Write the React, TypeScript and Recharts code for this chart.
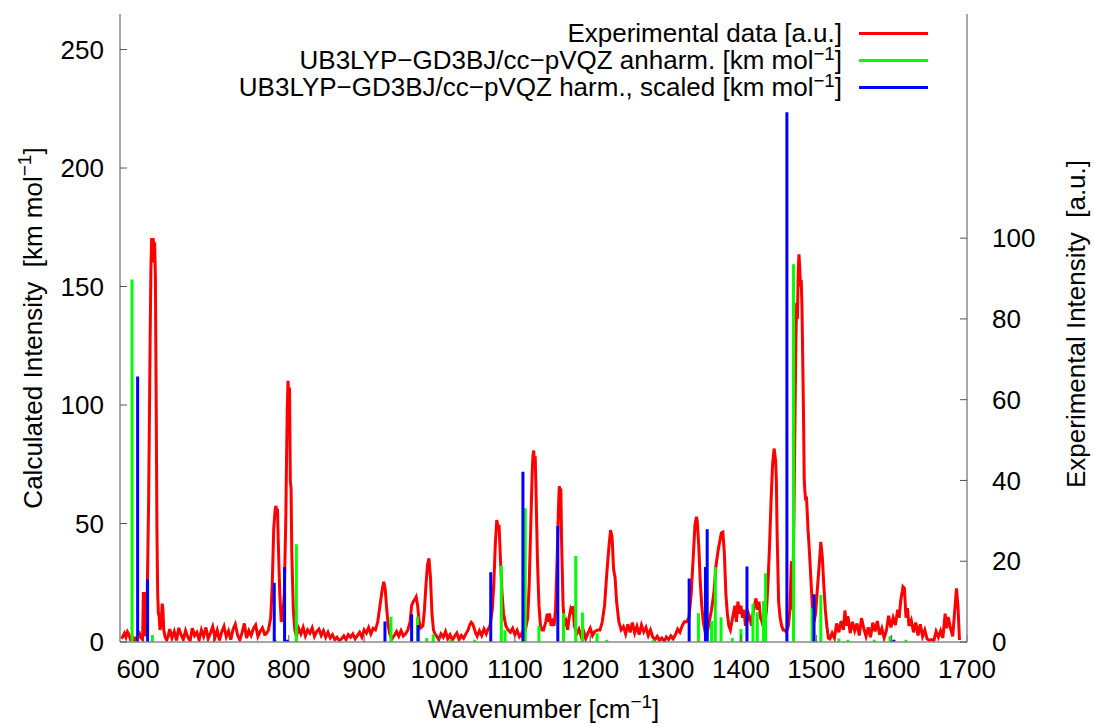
import React from 'react';
import { ComposedChart, Line, XAxis, YAxis, Legend } from 'recharts';

const wavenumberTicks = [600, 700, 800, 900, 1000, 1100, 1200, 1300, 1400, 1500, 1600, 1700];
const calcTicks = [0, 50, 100, 150, 200, 250];
const expTicks = [0, 20, 40, 60, 80, 100];

// measured spectrum, [wavenumber cm-1, intensity a.u.]
const experimental: [number, number][] = [
  [578, 0.8], [580, 1.5], [582, 2.2], [584, 1.2], [586, 2.5], [588, 1.8], [590, 0.6], [592, 1.4], [594, 0.4],
  [596, 0.9], [598, 0.3], [600, 1.2], [602, 2.0], [604, 1.0], [606, 0.6], [607, 12], [608.5, 12], [609, 1.5],
  [610, 2], [612, 10], [614, 35], [616, 75], [617, 92], [618, 100], [619, 94], [620, 100], [621, 97], [622, 99],
  [623, 90], [624, 60], [625, 28], [626, 12], [627, 7], [628, 6.3], [629, 3], [630, 4], [631, 6], [632, 9.5],
  [633, 8], [634, 3], [636, 1.2], [638, 0.5], [640, 1.5],
  [642, 3.2], [645, 1.0], [648, 2.6], [651, 0.4], [654, 3.5], [657, 1.8], [660, 0.6], [663, 2.8], [666, 1.2],
  [669, 0.3], [672, 3.4], [675, 1.6], [678, 2.4], [681, 0.5], [684, 3.0], [687, 1.4], [690, 3.6], [693, 0.8],
  [696, 2.2], [699, 3.8], [702, 1.1], [705, 2.9], [708, 0.4], [711, 2.5], [714, 3.9], [717, 1.3], [720, 2.7],
  [723, 0.6], [726, 3.1], [729, 4.4], [732, 1.7], [735, 0.5], [738, 2.3], [741, 4.6], [744, 1.0], [747, 2.8],
  [750, 1.6], [753, 3.3], [756, 4.2], [759, 1.4], [762, 2.6], [765, 3.5], [768, 1.9],
  [770, 2], [773, 3], [776, 6], [778, 14], [780, 28], [782, 33], [783, 33.7], [784, 32], [785, 33], [786, 25],
  [788, 12], [790, 5], [792, 6], [794, 12], [796, 30], [797, 45], [798, 58], [799, 64.7], [800, 60], [801, 63],
  [802, 40], [803, 38], [804, 22], [806, 8], [808, 3], [810, 1.5],
  [813, 3.4], [816, 2.0], [819, 3.6], [822, 1.5], [825, 3.0], [828, 2.2], [831, 3.5], [834, 1.4], [837, 2.6],
  [840, 3.2], [843, 1.6], [846, 2.8], [849, 1.2], [852, 2.4], [855, 1.0], [858, 1.8], [861, 0.6], [864, 1.2],
  [867, 0.3], [870, 0.8], [873, 1.5], [876, 0.6], [879, 1.8], [882, 1.2], [885, 2.0], [888, 0.8], [891, 1.6],
  [894, 2.4], [897, 1.2], [900, 3.0], [903, 2.2], [906, 3.6], [909, 2.0], [912, 3.4],
  [915, 3], [918, 5], [921, 9], [924, 13], [926, 14.9], [928, 13], [930, 8], [932, 4], [934, 2],
  [937, 0.8], [940, 1.6], [943, 2.6], [946, 1.4], [949, 2.8], [952, 1.5],
  [955, 2], [958, 3], [961, 5], [963, 9], [965, 10], [967, 10.5], [969, 11.2], [971, 9], [973, 5], [975, 3.5],
  [978, 4], [980, 8], [982, 14], [984, 19], [986, 20.7], [988, 16], [990, 7], [992, 3], [994, 2],
  [996, 1.5], [999, 0.6], [1002, 2.0], [1005, 1.2], [1008, 2.6], [1011, 0.8], [1014, 1.8], [1017, 0.5],
  [1020, 1.4], [1023, 2.2], [1026, 0.6], [1029, 1.6], [1032, 0.9], [1035, 2.0], [1038, 3.0], [1040, 4.2],
  [1042, 4.9], [1044, 4.5], [1046, 3.4], [1048, 2.2], [1050, 1.4], [1053, 2.8], [1056, 1.6], [1059, 3.2],
  [1062, 2.0],
  [1064, 3], [1067, 4], [1070, 8], [1072, 14], [1074, 24], [1076, 30.2], [1078, 28], [1079, 29], [1081, 20],
  [1083, 12], [1085, 7], [1088, 4], [1091, 3],
  [1094, 2.4], [1097, 3.4], [1100, 1.8], [1103, 2.9], [1106, 1.3], [1109, 2.1], [1111, 1.0],
  [1114, 3], [1117, 6], [1119, 14], [1121, 28], [1123, 42], [1124, 46], [1125, 47.4], [1126, 44], [1127, 46],
  [1128, 38], [1130, 20], [1132, 9], [1134, 4], [1136, 3],
  [1138, 3], [1141, 5], [1143, 7], [1145, 5], [1146, 7.1], [1148, 4], [1150, 5], [1152, 4], [1154, 8],
  [1156, 20], [1158, 34], [1159, 38.6], [1160, 37], [1161, 38], [1162, 25], [1164, 9], [1166, 4], [1168, 5],
  [1170, 3], [1172, 6], [1174, 8], [1176, 7], [1177, 8.9], [1179, 4], [1182, 2],
  [1185, 3.2], [1188, 1.4], [1191, 2.8], [1194, 0.8], [1197, 2.2], [1200, 3.4], [1203, 1.6], [1206, 2.6],
  [1210, 3], [1213, 3], [1216, 5], [1219, 9], [1222, 17], [1225, 24], [1227, 27.7], [1229, 26], [1231, 18],
  [1233, 16], [1235, 10], [1238, 5], [1241, 3],
  [1244, 3.8], [1247, 2.0], [1250, 4.4], [1253, 2.4], [1256, 4.8], [1259, 2.2], [1262, 3.9], [1265, 1.8],
  [1268, 4.2], [1271, 2.5], [1274, 3.6], [1277, 1.6], [1280, 3.0], [1283, 1.2], [1286, 0.6], [1289, 1.4],
  [1292, 0.4], [1295, 1.0], [1298, 0.3], [1301, 1.2], [1304, 0.6], [1307, 1.5], [1310, 0.8], [1313, 1.8],
  [1316, 3.2], [1319, 2.4],
  [1322, 4], [1325, 5], [1328, 5], [1331, 6], [1334, 12], [1337, 22], [1339, 29], [1341, 31], [1342, 30],
  [1344, 24], [1346, 15], [1348, 9], [1350, 5], [1352, 3], [1354, 4], [1356, 3],
  [1358, 5], [1361, 8], [1364, 12], [1367, 19], [1370, 23], [1372, 25], [1374, 27], [1376, 27.2], [1378, 22],
  [1380, 12], [1382, 7], [1384, 4], [1386, 3],
  [1389, 6], [1392, 9], [1394, 5], [1396, 10], [1398, 7], [1400, 9], [1402, 6], [1404, 8], [1406, 4],
  [1408, 5], [1410, 7], [1412, 6], [1414, 4], [1416, 7], [1418, 9], [1420, 10.8], [1422, 8], [1424, 10],
  [1426, 6], [1428, 5], [1430, 3.5], [1432, 5],
  [1434, 8], [1436, 15], [1438, 24], [1440, 35], [1442, 44], [1444, 47.9], [1446, 45], [1447, 40], [1448, 27],
  [1450, 10], [1452, 6], [1454, 4], [1456, 3], [1458, 3], [1460, 2.5], [1463, 4], [1465, 8], [1467, 20],
  [1468, 8], [1470, 25], [1472, 60], [1473, 75], [1474, 84], [1475, 80], [1476, 92], [1477, 96], [1478, 93],
  [1479, 88], [1480, 89.6], [1481, 83], [1482, 70], [1483, 57], [1484, 40], [1485, 37], [1486, 35], [1487, 36],
  [1489, 28], [1491, 22], [1493, 15], [1495, 8], [1497, 5], [1499, 7], [1501, 12], [1503, 17], [1505, 22],
  [1506, 24.8], [1508, 21], [1510, 14], [1512, 8], [1514, 4], [1516, 1],
  [1518, 0.8], [1521, 2.2], [1524, 1.0], [1527, 4.6], [1530, 2.4], [1533, 5.2], [1536, 3.0], [1538, 7.8],
  [1540, 4.0], [1542, 6.4], [1545, 2.2], [1548, 5.0], [1551, 2.8], [1554, 4.6], [1557, 1.6], [1560, 5.9],
  [1563, 3.4], [1566, 1.4], [1569, 3.6], [1572, 1.2], [1575, 4.8], [1578, 2.6], [1581, 5.2], [1584, 1.8],
  [1587, 3.4], [1590, 1.0], [1593, 2.8], [1596, 6.5], [1599, 3.6], [1602, 6.0], [1605, 4.2], [1608, 8.0],
  [1610, 6.0], [1612, 10.2], [1614, 12.4], [1615, 13.7], [1617, 13.3], [1619, 6.0], [1621, 8.4], [1623, 4.0],
  [1626, 5.4], [1629, 2.4], [1632, 4.8], [1635, 1.6], [1638, 4.4], [1641, 1.4], [1644, 3.0], [1647, 0.8],
  [1650, 0.4], [1653, 0.6], [1656, 0.3], [1659, 2.6], [1662, 1.2], [1665, 2.8], [1668, 1.0], [1671, 7.0],
  [1673, 3.4], [1675, 6.2], [1678, 3.5], [1681, 1.4], [1684, 8.4], [1686, 13.3], [1688, 9.0], [1690, 0.5],
];

// computed stick spectra, [wavenumber cm-1, intensity km/mol]
const anharmonic: [number, number][] = [
  [592, 153], [619, 3], [782, 1], [810, 41.3], [935.6, 10.7], [970.8, 10.7], [983, 1.7], [991.6, 3.2],
  [1015, 1], [1046.7, 1], [1082, 32.2], [1087, 5], [1113.7, 56.4], [1131.9, 6.7], [1164.5, 12.1],
  [1180.8, 36.3], [1189.7, 12.4], [1209, 3.7], [1222, 1], [1284, 1], [1343.6, 12.1], [1355, 6],
  [1361, 8.9], [1366, 31.5], [1373.6, 10.4], [1388.5, 1.7], [1400, 5.5], [1416, 16], [1421.7, 12.6],
  [1430, 17.3], [1432.7, 29], [1469.8, 159.4], [1494.5, 14.2], [1506, 19.8], [1530, 1.5], [1542, 1],
  [1577, 1], [1598, 2.5], [1619, 1],
];

const harmonicScaled: [number, number][] = [
  [599.4, 112], [612.6, 26.5], [780.7, 25], [794.4, 31.7], [798, 1], [927.6, 8.6], [963, 11.7],
  [971.7, 7.2], [1068, 29.4], [1110.7, 71.8], [1157, 48.9], [1331.3, 26.8], [1352.9, 31.7],
  [1355.2, 47.6], [1408, 31.9], [1461, 223.5], [1497, 20.2], [1603, 1],
];

const expData = experimental.map(([x, y]) => ({ x, y }));

// impulses: each stick is a vertical segment, broken by a null point
const toSticks = (peaks: [number, number][]) =>
  peaks.flatMap(([x, y]) => [{ x, y: 0 }, { x, y }, { x, y: null }]);

const FONT = '"Liberation Sans", Arial, Helvetica, sans-serif';
const AXIS_GREY = '#8a8a8a';
const TICK_GREY = '#555';
const tickStyle = { fill: '#000', fontSize: 26, fontFamily: FONT };

const withSup = (s: string) => {
  const [head, rest] = s.split('^');
  if (rest === undefined) return s;
  return (
    <>
      {head}
      <sup style={{ fontSize: '0.72em', lineHeight: 0, verticalAlign: '0.5em' }}>{rest.slice(0, 2)}</sup>
      {rest.slice(2)}
    </>
  );
};

const renderLegend = ({ payload }: any) => (
  <div style={{ fontFamily: FONT, fontSize: 26, lineHeight: '27px', color: '#000' }}>
    {(payload || []).map((entry: any) => (
      <div
        key={entry.value}
        style={{ display: 'flex', justifyContent: 'flex-end', alignItems: 'center', height: 27 }}
      >
        <span style={{ whiteSpace: 'nowrap' }}>{withSup(entry.value)}</span>
        <span style={{ display: 'inline-block', width: 69, height: 3, background: entry.color, marginLeft: 17 }} />
      </div>
    ))}
  </div>
);

const xTitle = ({ viewBox }: any) => {
  const cx = viewBox.x + viewBox.width / 2;
  const y = viewBox.y + 76;
  return (
    <text x={cx} y={y} textAnchor="middle" fontSize={26} fontFamily={FONT} fill="#000">
      Wavenumber [cm
      <tspan dy={-10} fontSize={19}>−1</tspan>
      <tspan dy={10}>]</tspan>
    </text>
  );
};

const leftTitle = ({ viewBox }: any) => {
  const x = viewBox.x + 42;
  const y = viewBox.y + viewBox.height / 2;
  return (
    <text
      x={x}
      y={y}
      transform={`rotate(-90, ${x}, ${y})`}
      textAnchor="middle"
      fontSize={26}
      fontFamily={FONT}
      fill="#000"
      style={{ whiteSpace: 'pre' }}
    >
      Calculated Intensity  [km mol
      <tspan dy={-11} fontSize={19}>−1</tspan>
      <tspan dy={11}>]</tspan>
    </text>
  );
};

const rightTitle = ({ viewBox }: any) => {
  const x = viewBox.x + 118;
  const y = viewBox.y + viewBox.height / 2 - 4;
  return (
    <text
      x={x}
      y={y}
      transform={`rotate(-90, ${x}, ${y})`}
      textAnchor="middle"
      fontSize={26}
      fontFamily={FONT}
      fill="#000"
      style={{ whiteSpace: 'pre' }}
    >
      Experimental Intensity  [a.u.]
    </text>
  );
};

const blank = () => '';

export default function App() {
  return (
    <div style={{ position: 'absolute', left: 0, top: 0, width: 1094, height: 724, background: '#fff', fontFamily: FONT }}>
      <ComposedChart width={1094} height={724} margin={{ top: 14, right: 0, bottom: 0, left: 0 }}>
        <XAxis
          xAxisId="wn"
          dataKey="x"
          type="number"
          domain={[576, 1700]}
          allowDataOverflow
          ticks={wavenumberTicks}
          interval={0}
          height={82}
          tickSize={-7}
          tickMargin={25}
          tick={tickStyle}
          axisLine={{ stroke: AXIS_GREY, strokeWidth: 1.5 }}
          tickLine={{ stroke: TICK_GREY }}
          label={xTitle}
        />
        <XAxis
          xAxisId="wnTop"
          orientation="top"
          dataKey="x"
          type="number"
          domain={[576, 1700]}
          allowDataOverflow
          ticks={wavenumberTicks}
          interval={0}
          height={0}
          tickSize={-6}
          tickFormatter={blank}
          axisLine={{ stroke: AXIS_GREY, strokeWidth: 1.5 }}
          tickLine={{ stroke: TICK_GREY }}
        />
        <YAxis
          yAxisId="calc"
          type="number"
          domain={[0, 265]}
          allowDataOverflow
          ticks={calcTicks}
          interval={0}
          width={120}
          tickSize={-7}
          tickMargin={23}
          tick={tickStyle}
          axisLine={{ stroke: AXIS_GREY, strokeWidth: 1.5 }}
          tickLine={{ stroke: TICK_GREY }}
          label={leftTitle}
        />
        <YAxis
          yAxisId="calcMirror"
          orientation="right"
          type="number"
          domain={[0, 265]}
          allowDataOverflow
          ticks={calcTicks.slice(1)}
          interval={0}
          width={0}
          tickSize={-7}
          tickFormatter={blank}
          axisLine={false}
          tickLine={{ stroke: TICK_GREY }}
        />
        <YAxis
          yAxisId="exp"
          orientation="right"
          type="number"
          domain={[0, 155.5]}
          allowDataOverflow
          ticks={expTicks}
          interval={0}
          width={127}
          tickSize={-7}
          tickMargin={32}
          tick={tickStyle}
          axisLine={{ stroke: AXIS_GREY, strokeWidth: 1.5 }}
          tickLine={{ stroke: TICK_GREY }}
          label={rightTitle}
        />
        <Legend
          layout="vertical"
          align="center"
          verticalAlign="middle"
          content={renderLegend}
          wrapperStyle={{ top: 20, right: 166, left: 'auto', width: 'auto' }}
        />
        <Line
          name="Experimental data [a.u.]"
          data={expData}
          dataKey="y"
          xAxisId="wn"
          yAxisId="exp"
          type="linear"
          stroke="#ff0000"
          strokeWidth={3}
          dot={false}
          activeDot={false}
          isAnimationActive={false}
        />
        <Line
          name="UB3LYP−GD3BJ/cc−pVQZ anharm. [km mol^−1]"
          data={toSticks(anharmonic)}
          dataKey="y"
          xAxisId="wn"
          yAxisId="calc"
          type="linear"
          stroke="#00ff00"
          strokeWidth={3}
          dot={false}
          activeDot={false}
          connectNulls={false}
          isAnimationActive={false}
        />
        <Line
          name="UB3LYP−GD3BJ/cc−pVQZ harm., scaled [km mol^−1]"
          data={toSticks(harmonicScaled)}
          dataKey="y"
          xAxisId="wn"
          yAxisId="calc"
          type="linear"
          stroke="#0000ff"
          strokeWidth={3}
          dot={false}
          activeDot={false}
          connectNulls={false}
          isAnimationActive={false}
        />
      </ComposedChart>
    </div>
  );
}
